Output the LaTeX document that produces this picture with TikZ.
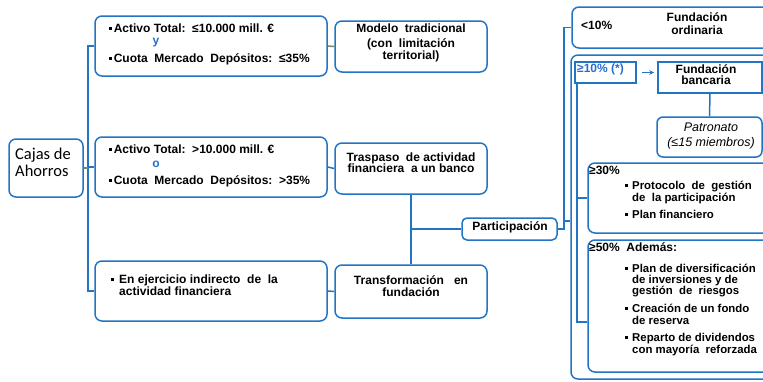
\documentclass[tikz,border=0pt]{standalone}
\usepackage{fontspec}
\setmainfont{Liberation Sans}
\newfontfamily\cajasfont{Carlito}
\usetikzlibrary{arrows.meta}
\definecolor{boxblue}{RGB}{34,116,196}
\definecolor{tickgreen}{RGB}{118,140,96}
\definecolor{txtblue}{RGB}{40,110,205}
\newcommand\sqb{\rule[2.4pt]{2.6pt}{2.6pt}}
\begin{document}
\begin{tikzpicture}[x=1pt,y=-1pt,
  rbox/.style={draw=boxblue, line width=1.5pt, rounded corners=7pt, inner sep=0pt},
  sbox/.style={draw=boxblue, line width=1.5pt, inner sep=0pt},
  conn/.style={draw=boxblue, line width=1.5pt},
  txt/.style={inner sep=0pt, font=\fontsize{12}{12}\selectfont\bfseries},
  rtx/.style={inner sep=0pt, font=\fontsize{11.4}{12}\selectfont\bfseries},
  itx/.style={inner sep=0pt, font=\fontsize{12.5}{12}\selectfont\itshape},
  cjs/.style={inner sep=0pt, font=\fontsize{16.5}{15}\selectfont\cajasfont},
  lw/.style={anchor=base west},
  lc/.style={anchor=base}]
\useasboundingbox (0,0) rectangle (763,381);
\fill[white] (0,0) rectangle (763,381);
\clip (0,0) rectangle (763,381);

% boxes
\node[rbox, minimum width=74pt, minimum height=58pt] (cajas) at (46,168) {};
\node[rbox, minimum width=232pt, minimum height=60pt] (b1) at (211,46) {};
\node[rbox, minimum width=232pt, minimum height=60pt] (b2) at (211,167) {};
\node[rbox, minimum width=232pt, minimum height=60pt] (b3) at (211,291) {};
\node[rbox, minimum width=152pt, minimum height=51pt] (modelo) at (411,46.5) {};
\node[rbox, minimum width=152pt, minimum height=51pt] (traspaso) at (411,168.5) {};
\node[rbox, minimum width=152pt, minimum height=53pt] (transf) at (411,291.5) {};
\node[rbox, rounded corners=5pt, minimum width=95pt, minimum height=22pt] (partic) at (509.5,229) {};
\node[rbox, minimum width=218pt, minimum height=41pt] (ordin) at (681,27.5) {};
\node[rbox, minimum width=219pt, minimum height=324pt] (big) at (680.5,217) {};
\node[sbox, minimum width=61pt, minimum height=21pt] (ge10) at (605.5,72.5) {};
\node[sbox, minimum width=104pt, minimum height=31pt] (fbanc) at (710,77.5) {};
\node[rbox, rounded corners=6pt, minimum width=105pt, minimum height=40pt] (patr) at (709.5,137) {};
\node[rbox, minimum width=202pt, minimum height=70pt] (ge30) at (689,198) {};
\node[rbox, minimum width=202pt, minimum height=132pt] (ge50) at (689,306) {};

% connectors
\coordinate (trunk) at (88,0);
\draw[conn] (b1.west) -- (b1.west -| trunk) -- (b3.west -| trunk) -- (b3.west);
\draw[conn] (b2.west -| trunk) -- (b2.west);
\draw[conn, draw=tickgreen] (cajas.east) -- (cajas.east -| trunk);
\draw[conn, draw=tickgreen] (b1.east) -- (modelo.west);
\draw[conn] (b2.east) -- (traspaso.west);
\draw[conn] (b3.east) -- (transf.west);
\draw[conn] (traspaso.south) -- (transf.north);
\draw[conn] (traspaso.south |- partic.west) -- (partic.west);
\coordinate (rtrunk) at (564,0);
\draw[conn] (partic.east) -- (partic.east -| rtrunk) -- (ordin.west -| rtrunk) -- (ordin.west);
\coordinate (bigin) at (564,221);
\draw[conn] (bigin) -- (bigin -| big.west);
\draw[conn, line width=1.2pt, -{Stealth[length=5pt,width=4.5pt]}, shorten <=5pt, shorten >=3pt] (ge10.east) -- (ge10.east -| fbanc.west);
\draw[conn] (fbanc.south) -- (patr.north);
\coordinate (itrunk) at (577,0);
\coordinate (i50) at (577,322);
\draw[conn] (ge10.south -| i50) -- (i50) -- (i50 -| ge50.west);
\draw[conn] (itrunk |- ge30.west) -- (ge30.west);

% texts
\node[cjs, lw] (c1) at (15,159.5) {Cajas de};
\node[cjs, lw] (c2) at (15,176) {Ahorros};

\node[txt, lw] (t1a) at (109,32) {\sqb\,Activo Total:\ \ ≤10.000 mill. €};
\node[txt, lc, text=txtblue] (t1b) at (156,44) {y};
\node[txt, lw] (t1c) at (109,62) {\sqb\,Cuota\ \ Mercado\ \ Depósitos:\ \ ≤35\%};

\node[txt, lw] (t2a) at (109,153) {\sqb\,Activo Total:\ \ >10.000 mill. €};
\node[txt, lc, text=txtblue] (t2b) at (156,167) {o};
\node[txt, lw] (t2c) at (109,184) {\sqb\,Cuota\ \ Mercado\ \ Depósitos:\ \ >35\%};

\node[txt, lc] (m1) at (411,32) {Modelo\ \ tradicional};
\node[txt, lc] (m2) at (411,47) {(con\ \ limitación};
\node[txt, lc] (m3) at (411,59) {territorial)};

\node[txt, lc] (p1) at (411,161) {Traspaso\ \ de actividad};
\node[txt, lc] (p2) at (411,172) {financiera\ \ a un banco};

\node[txt, lw] (e0) at (111,283) {\sqb};
\node[txt, lw] (e1) at (119,283) {En ejercicio indirecto\ \ de\ \ la};
\node[txt, lw] (e2) at (119,295) {actividad financiera};

\node[txt, lc] (f1) at (411,284) {Transformación\ \ \ en};
\node[txt, lc] (f2) at (411,296) {fundación};

\node[txt, lc] (pa) at (510,230) {Participación};

\node[txt, lw] (o0) at (581,29) {<10\%};
\node[txt, lc] (o1) at (697,21) {Fundación};
\node[txt, lc] (o2) at (697,34) {ordinaria};

\node[txt, lw, text=txtblue] (g10) at (577,72) {≥10\% (*)};
\node[txt, lc] (fb1) at (706,73) {Fundación};
\node[txt, lc] (fb2) at (706,84) {bancaria};

\node[itx, lc] (pt1) at (711,131) {Patronato};
\node[itx, lc] (pt2) at (711,146) {(≤15 miembros)};

\node[txt, lw] (g30) at (589,174) {≥30\%};
\node[rtx, lw] (r1b) at (625,189) {\sqb};
\node[rtx, lw] (r1a) at (632,189) {Protocolo\ \ de\ \ gestión};
\node[rtx, lw] (r1c) at (632,201) {de\ \ la participación};
\node[rtx, lw] (r2b) at (625,218) {\sqb};
\node[rtx, lw] (r2a) at (632,218) {Plan financiero};

\node[txt, lw] (g50) at (589,251) {≥50\%\ \ Además:};
\node[rtx, lw] (s1b) at (625,272) {\sqb};
\node[rtx, lw] (s1a) at (632,272) {Plan de diversificación};
\node[rtx, lw] (s1c) at (632,283) {de inversiones y de};
\node[rtx, lw] (s1d) at (632,294) {gestión\ \ de\ \ riesgos};
\node[rtx, lw] (s2b) at (625,312) {\sqb};
\node[rtx, lw] (s2a) at (632,312) {Creación de un fondo};
\node[rtx, lw] (s2c) at (632,324) {de reserva};
\node[rtx, lw] (s3b) at (625,341) {\sqb};
\node[rtx, lw] (s3a) at (632,341) {Reparto de dividendos};
\node[rtx, lw] (s3c) at (632,353) {con mayoría\ \ reforzada};
\end{tikzpicture}
\end{document}
